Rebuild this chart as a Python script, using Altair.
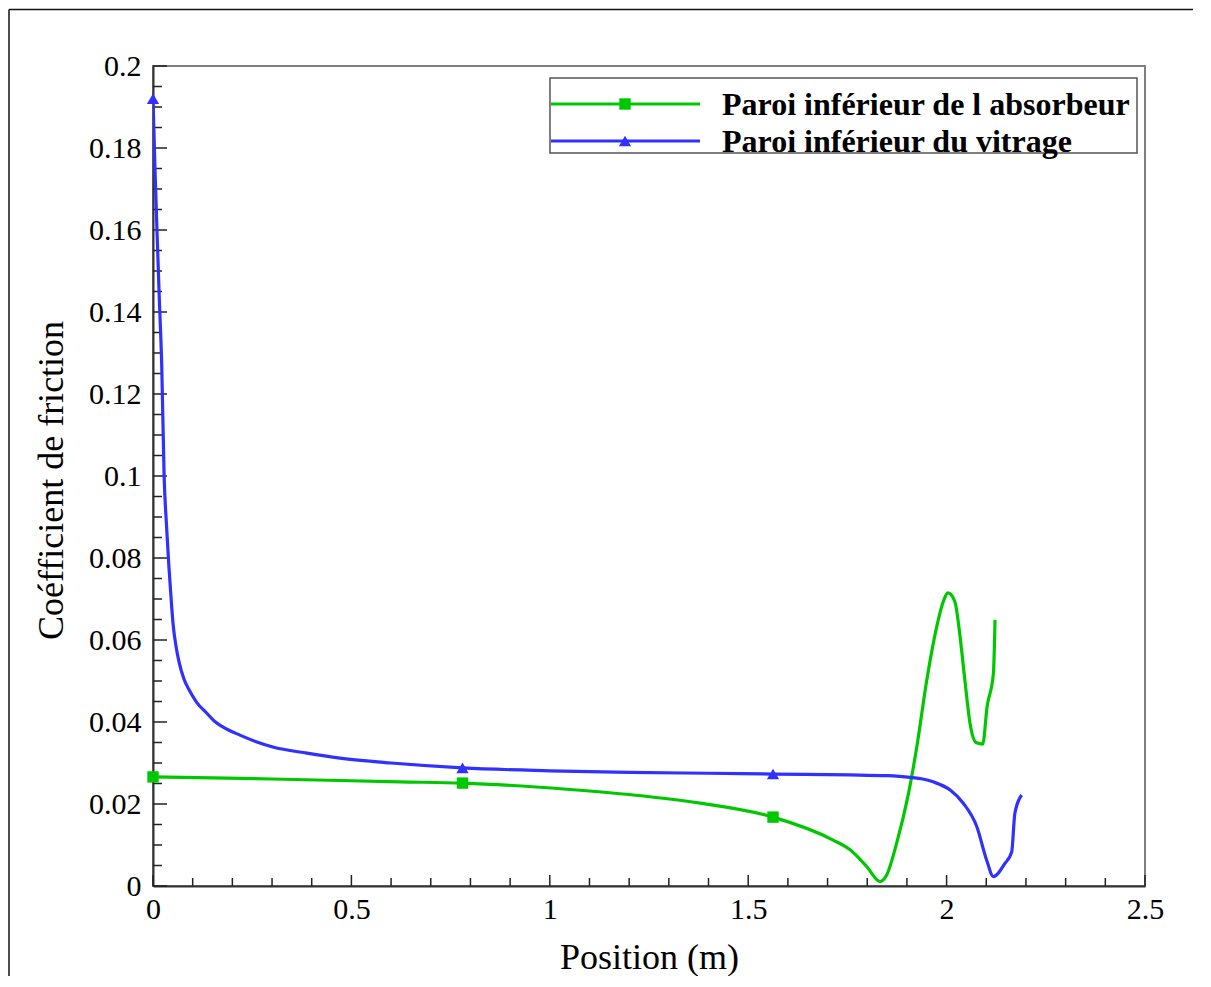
import altair as alt
import pandas as pd

# ---------------- data ----------------
x_vit = [0, 0.005, 0.01, 0.016, 0.022, 0.028, 0.034, 0.04, 0.045, 0.051, 0.058, 0.066,
         0.078, 0.093, 0.11, 0.135, 0.155, 0.176, 0.219, 0.26, 0.302, 0.388, 0.471,
         0.6, 0.78, 1.0, 1.2, 1.4, 1.5625, 1.756, 1.85, 1.908, 1.94, 1.966, 2.009,
         2.042, 2.076, 2.101, 2.118, 2.147, 2.164, 2.172, 2.189]
y_vit = [0.192, 0.175, 0.16, 0.143, 0.127, 0.100, 0.088, 0.078, 0.071, 0.0635, 0.0585, 0.0545,
         0.0505, 0.0475, 0.0448, 0.0422, 0.0402, 0.0388, 0.0368, 0.0352, 0.0339, 0.0324, 0.0312,
         0.0300, 0.0288, 0.0281, 0.0277, 0.0275, 0.0273, 0.0271, 0.0269, 0.0265, 0.0261, 0.0254, 0.0234,
         0.0202, 0.0145, 0.0063, 0.0023, 0.0055, 0.0083, 0.0177, 0.0222]

x_abs = [0, 0.3, 0.622, 0.78, 1.043, 1.21, 1.379, 1.5625, 1.714, 1.756, 1.799, 1.832,
         1.849, 1.874, 1.904, 1.925, 1.95, 1.975, 1.99, 2.004, 2.021, 2.033, 2.046,
         2.059, 2.074, 2.091, 2.102, 2.118, 2.122]
y_abs = [0.0266, 0.0261, 0.0254, 0.0251, 0.0236, 0.0222, 0.0202, 0.0168, 0.0112, 0.0089, 0.0047, 0.0011,
         0.0027, 0.0104, 0.0226, 0.034, 0.0502, 0.0632, 0.0689, 0.0715, 0.0693, 0.0616, 0.0502,
         0.0397, 0.035, 0.0346, 0.0437, 0.0519, 0.0649]

marker_x = [0, 0.78, 1.5625]
marker_vit = [0.192, 0.0288, 0.0273]
marker_abs = [0.0266, 0.0251, 0.0168]

series_names = ["Paroi inférieur de l absorbeur", "Paroi inférieur du vitrage"]
series_colors = ["#00c800", "#3030ff"]

x_ticks_major = [0, 0.5, 1, 1.5, 2, 2.5]
x_ticks_minor = [0.1, 0.2, 0.3, 0.4, 0.6, 0.7, 0.8, 0.9, 1.1, 1.2, 1.3, 1.4,
                 1.6, 1.7, 1.8, 1.9, 2.1, 2.2, 2.3, 2.4]
y_ticks_major = [0, 0.02, 0.04, 0.06, 0.08, 0.1, 0.12, 0.14, 0.16, 0.18, 0.2]
y_ticks_minor = [0.005, 0.01, 0.015, 0.025, 0.03, 0.035, 0.045, 0.05, 0.055,
                 0.065, 0.07, 0.075, 0.085, 0.09, 0.095, 0.105, 0.11, 0.115,
                 0.125, 0.13, 0.135, 0.145, 0.15, 0.155, 0.165, 0.17, 0.175,
                 0.185, 0.19, 0.195]

# ---------------- layout ----------------
W, H = 992, 820
FONT = "Liberation Serif"

lines_df = pd.concat([
    pd.DataFrame({"x": x_abs, "y": y_abs, "serie": series_names[0], "o": range(len(x_abs))}),
    pd.DataFrame({"x": x_vit, "y": y_vit, "serie": series_names[1], "o": range(len(x_vit))}),
])
mk_abs_df = pd.DataFrame({"x": marker_x, "y": marker_abs})
mk_vit_df = pd.DataFrame({"x": marker_x, "y": marker_vit})

x_axis = alt.Axis(title="Position (m)", values=x_ticks_major, format="~g", grid=False,
                  ticks=False, tickSize=0, labelPadding=8, labelFont=FONT, labelFontSize=30,
                  labelColor="black", titleFont=FONT, titleFontSize=36, titleFontWeight="normal",
                  titleColor="black", titleY=82, titleBaseline="alphabetic",
                  domainColor="#333333", domainWidth=2, labelFlush=False)
y_axis = alt.Axis(title="Coéfficient de friction", values=y_ticks_major, format="~g", grid=False,
                  ticks=False, tickSize=0, labelPadding=12, labelFont=FONT, labelFontSize=30,
                  labelColor="black", titleFont=FONT, titleFontSize=36, titleFontWeight="normal",
                  titleColor="black", titleAngle=-90, titleX=-91, titleY=414,
                  titleAlign="center", titleBaseline="alphabetic",
                  domainColor="#333333", domainWidth=2, labelFlush=False)

xs = alt.Scale(domain=[0, 2.5], nice=False, zero=False)
ys = alt.Scale(domain=[0, 0.2], nice=False, zero=False)
X = alt.X("x:Q", scale=xs, axis=x_axis)
Y = alt.Y("y:Q", scale=ys, axis=y_axis)

color = alt.Color("serie:N", scale=alt.Scale(domain=series_names, range=series_colors), legend=None)

lines = alt.Chart(lines_df).mark_line(strokeWidth=3.2, clip=True, interpolate="monotone").encode(
    x=X, y=Y, color=color, order="o:Q", detail="serie:N")

pts_abs = alt.Chart(mk_abs_df).mark_point(shape="square", filled=True, size=130, opacity=1,
                                          color=series_colors[0]).encode(x=X, y=Y)
pts_vit = alt.Chart(mk_vit_df).mark_point(shape="triangle-up", filled=True, size=150, opacity=1,
                                          color=series_colors[1]).encode(x=X, y=Y)

# inward ticks
xt_major = alt.Chart(pd.DataFrame({"x": x_ticks_major})).mark_rule(color="#222", strokeWidth=1.5).encode(
    x=X, y=alt.value(H), y2=alt.value(H - 11))
xt_minor = alt.Chart(pd.DataFrame({"x": x_ticks_minor})).mark_rule(color="#222", strokeWidth=1.5).encode(
    x=X, y=alt.value(H), y2=alt.value(H - 8))
yt_major = alt.Chart(pd.DataFrame({"y": y_ticks_major})).mark_rule(color="#222", strokeWidth=1.5).encode(
    y=Y, x=alt.value(0), x2=alt.value(14))
yt_minor = alt.Chart(pd.DataFrame({"y": y_ticks_minor})).mark_rule(color="#222", strokeWidth=1.5).encode(
    y=Y, x=alt.value(0), x2=alt.value(9))

# legend box
one = pd.DataFrame({"k": [0]})
leg_box = alt.Chart(one).mark_rect(fill="white", stroke="#555555", strokeWidth=1.5).encode(
    x=alt.value(397), x2=alt.value(984), y=alt.value(12), y2=alt.value(87))
leg_layers = [leg_box]
leg_y = [38, 75]
shapes = ["square", "triangle-up"]
sizes = [130, 150]
for i in range(2):
    leg_layers.append(alt.Chart(one).mark_rule(color=series_colors[i], strokeWidth=3.2).encode(
        x=alt.value(398), x2=alt.value(547), y=alt.value(leg_y[i])))
    leg_layers.append(alt.Chart(one).mark_point(shape=shapes[i], filled=True, size=sizes[i], opacity=1,
                                                color=series_colors[i]).encode(
        x=alt.value(472), y=alt.value(leg_y[i])))
    leg_layers.append(alt.Chart(one).mark_text(text=series_names[i], font=FONT, fontSize=32,
                                               fontWeight="bold", color="black", align="left",
                                               baseline="alphabetic").encode(
        x=alt.value(569), y=alt.value(leg_y[i] + 11)))

# outer frame (left and top edges of the figure)
frame_left = alt.Chart(one).mark_rule(color="#111", strokeWidth=1.5).encode(
    x=alt.value(-144), y=alt.value(-56.5), y2=alt.value(910))
frame_top = alt.Chart(one).mark_rule(color="#111", strokeWidth=1.5).encode(
    x=alt.value(-144), x2=alt.value(1040), y=alt.value(-56.5))

chart = alt.layer(
    frame_left, frame_top, xt_minor, xt_major, yt_minor, yt_major,
    lines, pts_abs, pts_vit, *leg_layers
).properties(
    width=W, height=H,
    autosize=alt.AutoSizeParams(type="none"),
    padding={"left": 145, "top": 58, "right": 48, "bottom": 90},
    background="white",
).configure_view(stroke="#7f7f7f", strokeWidth=2)

chart.save("out.html", embed_options={"renderer": "svg", "actions": False})
